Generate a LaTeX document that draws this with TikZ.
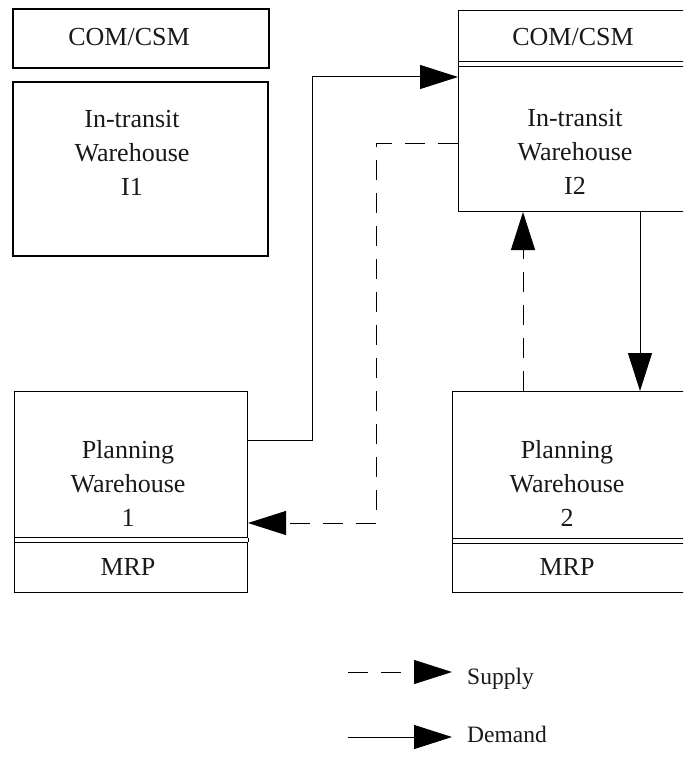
\documentclass[tikz,border=0pt]{standalone}
\usepackage{fontspec}
\setmainfont{Liberation Serif}
\usetikzlibrary{arrows.meta}
\begin{document}
\begin{tikzpicture}[x=1pt,y=-1pt,
  thickbox/.style={draw, line width=2.4pt, inner sep=0pt, anchor=north west},
  thinbox/.style={draw, line width=1pt, inner sep=0pt, anchor=north west},
  boxtext/.style={align=center, font=\fontsize{26}{34}\selectfont, inner sep=0pt, text=black!90},
  legendtext/.style={anchor=west, font=\fontsize{23.5}{28}\selectfont, inner sep=0pt, text=black!90},
  demand/.style={line width=1pt, -{Triangle[length=38pt,width=24pt]}},
  supply/.style={demand, dash pattern=on 20pt off 13pt},
  joinline/.style={line width=1pt}]
\clip (0,0) rectangle (683,757);
\fill[white] (0,0) rectangle (683,757);

% top-left boxes
\node[thickbox, minimum width=256pt, minimum height=59pt] (com1) at (12,8) {};
\node[boxtext] (com1t) at (129,37) {COM/CSM};
\node[thickbox, minimum width=255pt, minimum height=174pt] (i1) at (12,81) {};
\node[boxtext] (i1t) at (132,153) {In-transit\\Warehouse\\I1};

% top-right box
\node[thinbox, minimum width=230pt, minimum height=51pt] (i2top) at (458,10) {};
\node[boxtext] (i2topt) at (573,37) {COM/CSM};
\node[thinbox, minimum width=230pt, minimum height=145pt] (i2) at (458,66) {};
\node[boxtext] (i2t) at (575,152) {In-transit\\Warehouse\\I2};
\draw[joinline] (i2top.south west) -- (i2.north west);

% planning warehouse 1
\node[thinbox, minimum width=233pt, minimum height=146pt] (pw1) at (14,391) {};
\node[boxtext] (pw1t) at (128,483) {Planning\\Warehouse\\1};
\node[thinbox, minimum width=233pt, minimum height=50pt] (mrp1) at (14,542) {};
\node[boxtext] (mrp1t) at (128,567) {MRP};
\draw[joinline] (pw1.south west) -- (mrp1.north west);
\draw[joinline] (pw1.south east) -- (mrp1.north east);

% planning warehouse 2
\node[thinbox, minimum width=234pt, minimum height=147pt] (pw2) at (452,391) {};
\node[boxtext] (pw2t) at (567,483) {Planning\\Warehouse\\2};
\node[thinbox, minimum width=234pt, minimum height=49pt] (mrp2) at (452,543) {};
\node[boxtext] (mrp2t) at (567,567) {MRP};
\draw[joinline] (pw2.south west) -- (mrp2.north west);

% connectors
\coordinate (d1) at (312,440);
\coordinate (d2) at (312,77);
\draw[demand] (pw1.east |- d1) -- (d1) -- (d2) -- (d2 -| i2.west);

\coordinate (s1) at (376,143);
\coordinate (s2) at (376,523);
\draw[supply] (s1 -| i2.west) -- (s1) -- (s2) -- (s2 -| pw1.east);

\coordinate (v1) at (523,300);
\draw[supply] (v1 |- pw2.north) -- (v1 |- i2.south);
\coordinate (v2) at (640,300);
\draw[demand] (v2 |- i2.south) -- (v2 |- pw2.north);

% legend
\coordinate (ls1) at (348,672);
\coordinate (ls2) at (452,672);
\draw[supply] (ls1) -- (ls2);
\node[legendtext] (supt) at (467,679) {Supply};
\coordinate (ld1) at (348,737);
\coordinate (ld2) at (452,737);
\draw[demand] (ld1) -- (ld2);
\node[legendtext] (demt) at (467,734) {Demand};
\end{tikzpicture}
\end{document}
